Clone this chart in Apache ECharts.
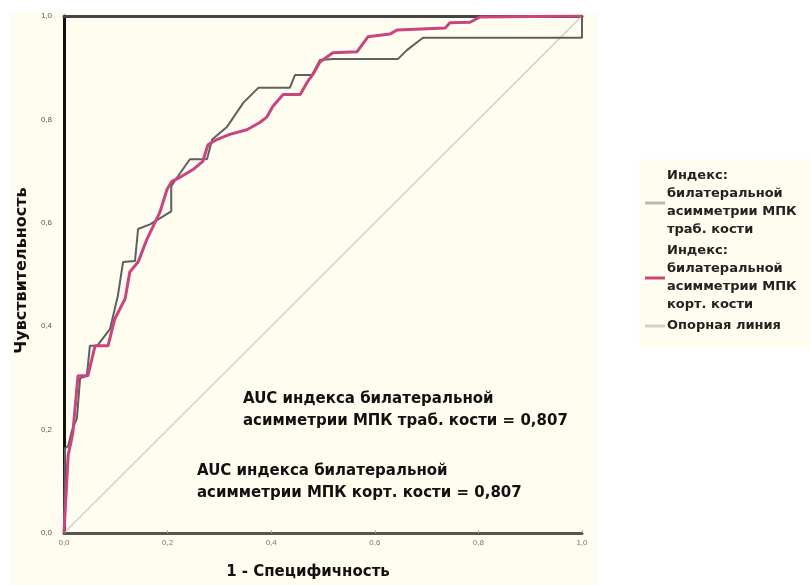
<!DOCTYPE html>
<html>
<head>
<meta charset="utf-8">
<script src="https://cdn.jsdelivr.net/npm/echarts@6/dist/echarts.min.js"></script>
<style>
  html, body { margin: 0; padding: 0; background: #fff; }
  #mainChart { width: 810px; height: 585px; }
</style>
</head>
<body>
<div id="mainChart"></div>
<script>
// ROC: индекс билатеральной асимметрии МПК трабекулярной кости
var trabX = [0, 0.002, 0.008, 0.015, 0.025, 0.031, 0.044, 0.050, 0.064, 0.089, 0.104, 0.114, 0.137, 0.143, 0.166, 0.207, 0.207, 0.220, 0.243, 0.276, 0.286, 0.315, 0.346, 0.375, 0.436, 0.446, 0.479, 0.494, 0.519, 0.645, 0.662, 0.693, 1.0, 1.0];
var trabY = [0, 0.164, 0.168, 0.197, 0.222, 0.299, 0.304, 0.362, 0.362, 0.395, 0.459, 0.524, 0.526, 0.588, 0.597, 0.622, 0.671, 0.690, 0.723, 0.723, 0.761, 0.786, 0.832, 0.861, 0.861, 0.886, 0.886, 0.915, 0.917, 0.917, 0.934, 0.958, 0.958, 1.0];
// ROC: индекс билатеральной асимметрии МПК кортикальной кости
var kortX = [0, 0.008, 0.017, 0.027, 0.046, 0.060, 0.085, 0.098, 0.118, 0.127, 0.143, 0.160, 0.185, 0.199, 0.208, 0.224, 0.249, 0.268, 0.278, 0.295, 0.320, 0.353, 0.378, 0.392, 0.403, 0.423, 0.456, 0.469, 0.481, 0.494, 0.519, 0.566, 0.587, 0.629, 0.643, 0.736, 0.745, 0.784, 0.803, 1.0];
var kortY = [0, 0.150, 0.193, 0.304, 0.304, 0.362, 0.362, 0.414, 0.453, 0.505, 0.524, 0.568, 0.620, 0.665, 0.680, 0.688, 0.703, 0.719, 0.751, 0.761, 0.771, 0.780, 0.794, 0.805, 0.825, 0.848, 0.848, 0.871, 0.888, 0.911, 0.929, 0.931, 0.960, 0.965, 0.973, 0.977, 0.987, 0.988, 0.998, 1.0];
var refX = [0, 1];
var refY = [0, 1];
var tickLabels = ['0,0', '0,2', '0,4', '0,6', '0,8', '1,0'];

var nameTrab = 'Индекс: билатеральной асимметрии МПК траб. кости';
var nameKort = 'Индекс: билатеральной асимметрии МПК корт. кости';
var nameRef = 'Опорная линия';

function zip(xs, ys) {
    return xs.map(function (x, i) { return [x, ys[i]]; });
}
function tickText(v) {
    return tickLabels[Math.round(v * 5)];
}

var myChart = echarts.init(document.getElementById('mainChart'));

var option = {
    backgroundColor: '#fff',
    animation: false,
    graphic: [
        { type: 'rect', left: 10, top: 13, z: -10, shape: { width: 588, height: 572 }, style: { fill: '#fffdf0' } },
        { type: 'rect', left: 639, top: 159, z: -10, shape: { width: 171, height: 188 }, style: { fill: '#fffdf0' } },
        {
            type: 'text', left: 243, top: 388,
            style: { text: 'AUC индекса билатеральной\nасимметрии МПК траб. кости = 0,807', font: 'bold 15px "DejaVu Sans"', fill: '#111', lineHeight: 22 }
        },
        {
            type: 'text', left: 197, top: 460,
            style: { text: 'AUC индекса билатеральной\nасимметрии МПК корт. кости = 0,807', font: 'bold 15px "DejaVu Sans"', fill: '#111', lineHeight: 22 }
        }
    ],
    legend: {
        orient: 'vertical',
        left: 640,
        top: 162,
        itemWidth: 20,
        itemHeight: 3,
        itemGap: 3,
        textStyle: { color: '#222', fontSize: 13, fontWeight: 'bold', fontFamily: 'DejaVu Sans', lineHeight: 18, padding: [0, 0, 0, -3] },
        formatter: function (name) {
            if (name === nameTrab) return 'Индекс:\nбилатеральной\nасимметрии МПК\nтраб. кости';
            if (name === nameKort) return 'Индекс:\nбилатеральной\nасимметрии МПК\nкорт. кости';
            return name;
        },
        data: [
            { name: nameTrab, icon: 'rect', itemStyle: { color: '#b8b8b8' } },
            { name: nameKort, icon: 'rect', itemStyle: { color: '#c8457e' } },
            { name: nameRef, icon: 'rect', itemStyle: { color: '#d0d0d0' } }
        ]
    },
    grid: { left: 64, right: 228, top: 16, bottom: 50 },
    xAxis: [
        {
            type: 'value', min: 0, max: 1, interval: 0.2,
            name: '1 - Специфичность', nameLocation: 'middle', nameGap: 32,
            nameTextStyle: { color: '#111', fontSize: 15, fontWeight: 'bold', fontFamily: 'DejaVu Sans', padding: [0, 30, 0, 0] },
            axisLine: { lineStyle: { color: '#555', width: 3 } },
            axisTick: { show: true, length: 3, inside: true, lineStyle: { color: '#aaa' } },
            axisLabel: { color: '#777', fontSize: 8, margin: 6, formatter: tickText },
            splitLine: { show: false }
        },
        {
            type: 'value', min: 0, max: 1, position: 'top',
            axisLine: { show: true, lineStyle: { color: '#444', width: 3 } },
            axisTick: { show: false }, axisLabel: { show: false }, splitLine: { show: false }
        }
    ],
    yAxis: {
        type: 'value', min: 0, max: 1, interval: 0.2,
        name: 'Чувствительность', nameLocation: 'middle', nameGap: 34,
        nameTextStyle: { color: '#111', fontSize: 16, fontWeight: 'bold', fontFamily: 'DejaVu Sans', padding: [0, 0, 0, 8] },
        axisLine: { show: true, lineStyle: { color: '#111', width: 3 } },
        axisTick: { show: false },
        axisLabel: { color: '#555', fontSize: 8, margin: 12, formatter: tickText },
        splitLine: { show: false }
    },
    series: [
        {
            name: nameRef, type: 'line', symbol: 'none', z: 1,
            lineStyle: { color: '#cfcfcf', width: 1.5 },
            data: zip(refX, refY)
        },
        {
            name: nameTrab, type: 'line', symbol: 'none', z: 2,
            lineStyle: { color: '#5f5f5f', width: 2 },
            data: zip(trabX, trabY)
        },
        {
            name: nameKort, type: 'line', symbol: 'none', z: 3,
            lineStyle: { color: '#c8457e', width: 3 },
            data: zip(kortX, kortY)
        }
    ]
};
myChart.setOption(option);
</script>
</body>
</html>
